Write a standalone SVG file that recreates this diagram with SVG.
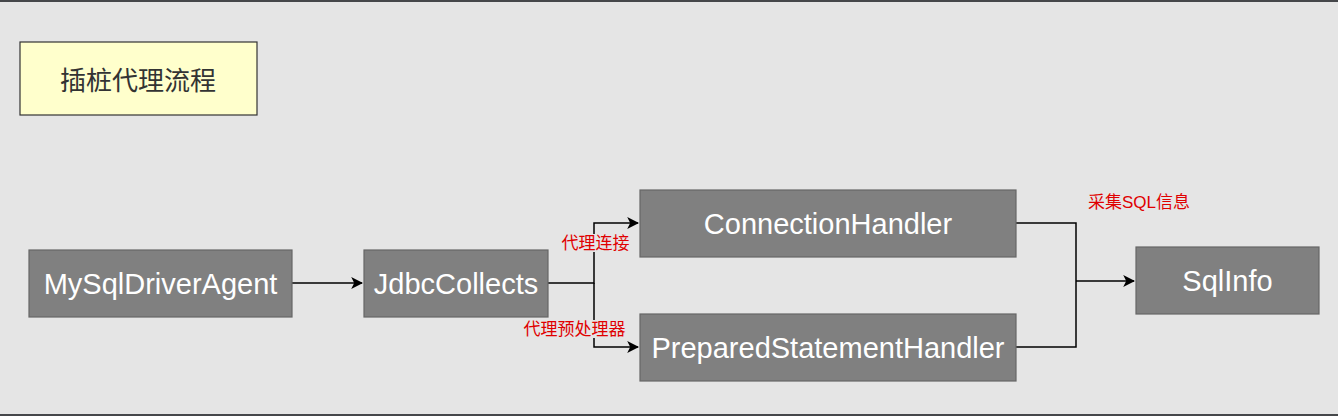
<svg xmlns="http://www.w3.org/2000/svg" width="1338" height="416" viewBox="0 0 1338 416">
<defs>
<style>
.node rect{fill:#808080;stroke:#666666;stroke-width:1.2}
.node text{fill:#ffffff;font-family:"Liberation Sans",Arial,sans-serif;font-size:29px;text-anchor:middle;dominant-baseline:central}
.conn{fill:none;stroke:#000000;stroke-width:1.5}
.lbl{fill:#e00000;font-family:"Liberation Sans","Noto Sans CJK SC",sans-serif;font-size:17px;text-anchor:middle;dominant-baseline:central}
</style>
<marker id="arr" viewBox="0 0 10 10" refX="9" refY="5" markerWidth="12" markerHeight="12" markerUnits="userSpaceOnUse" orient="auto">
<path d="M0,0 L10,5 L0,10 L2.5,5 Z" fill="#000000"/>
</marker>
</defs>
<rect x="0" y="0" width="1338" height="416" fill="#e5e5e5"/>
<rect x="0" y="0" width="1338" height="2" fill="#45474a"/>
<rect x="0" y="414" width="1338" height="2" fill="#45474a"/>

<g id="title">
<rect x="20" y="42" width="237" height="73" fill="#ffffcc" stroke="#333333" stroke-width="1.2"/>
<text x="138" y="78" fill="#333333" font-family="'Noto Sans CJK SC',sans-serif" font-size="26" text-anchor="middle" dominant-baseline="central">插桩代理流程</text>
</g>

<g id="connectors">
<path class="conn" d="M292,283 H362" marker-end="url(#arr)"/>
<path class="conn" d="M548,283 H594 V223 H638" marker-end="url(#arr)"/>
<path class="conn" d="M594,283 V347 H638" marker-end="url(#arr)"/>
<path class="conn" d="M1016,223 H1076 V347 H1016"/>
<path class="conn" d="M1076,281 H1134" marker-end="url(#arr)"/>
<rect x="560" y="234" width="71" height="18" fill="#e5e5e5"/>
<text class="lbl" x="595.500" y="243">代理连接</text>
<rect x="520" y="320" width="109" height="18" fill="#e5e5e5"/>
<text class="lbl" x="574.500" y="329">代理预处理器</text>
<text class="lbl" x="1139" y="202">采集SQL信息</text>
</g>

<g id="n-mysqldriveragent" class="node">
<rect x="29" y="250" width="263" height="67"/>
<text x="160.500" y="283.500">MySqlDriverAgent</text>
</g>
<g id="n-jdbccollects" class="node">
<rect x="364" y="250" width="184" height="67"/>
<text x="456" y="283.500">JdbcCollects</text>
</g>
<g id="n-connectionhandler" class="node">
<rect x="640" y="190" width="376" height="67"/>
<text x="828" y="223.500">ConnectionHandler</text>
</g>
<g id="n-preparedstatementhandler" class="node">
<rect x="640" y="314" width="376" height="67"/>
<text x="828" y="347.500">PreparedStatementHandler</text>
</g>
<g id="n-sqlinfo" class="node">
<rect x="1136" y="247" width="183" height="67"/>
<text x="1227.500" y="280.500">SqlInfo</text>
</g>
</svg>
